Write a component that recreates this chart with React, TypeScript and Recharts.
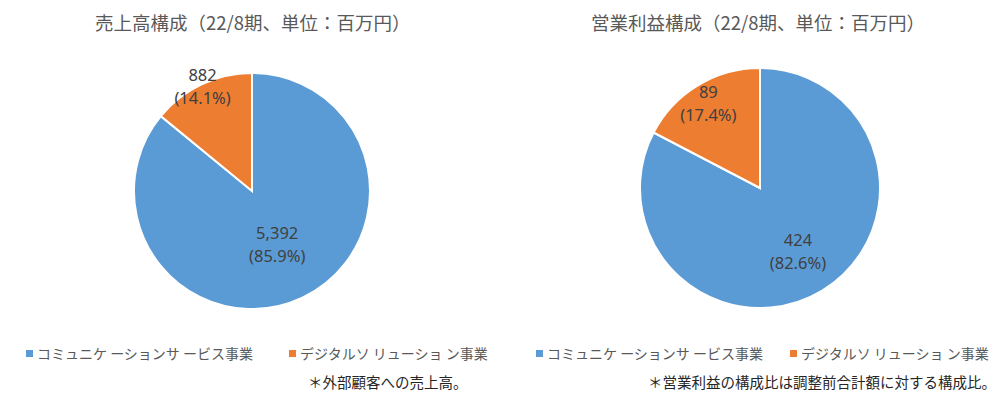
import React from "react";
import { PieChart, Pie, Cell, Legend } from "recharts";

const segments = ["コミュニケ ーションサ ービス事業", "デジタルソ リューショ ン事業"];
const salesValues = [5392, 882];
const salesPct = ["85.9%", "14.1%"];
const profitValues = [424, 89];
const profitPct = ["82.6%", "17.4%"];
const titles = ["売上高構成（22/8期、単位：百万円）", "営業利益構成（22/8期、単位：百万円）"];
const notes = ["＊外部顧客への売上高。", "＊営業利益の構成比は調整前合計額に対する構成比。"];
const colors = ["#5B9BD5", "#ED7D31"];

const RADIAN = Math.PI / 180;
const FONT = "'Noto Sans CJK JP', 'Noto Sans', sans-serif";

const makeLabel = (pcts: string[], fractions: number[]) => (props: any) => {
  const { cx, cy, midAngle, outerRadius, index, value } = props;
  const r = outerRadius * fractions[index];
  const x = cx + r * Math.cos(-midAngle * RADIAN);
  const y = cy + r * Math.sin(-midAngle * RADIAN);
  return (
    <text x={x} y={y} textAnchor="middle" fill="#404040" fontSize={16.5} fontFamily="'Noto Sans', sans-serif">
      <tspan x={x} dy={-11.5} dominantBaseline="central">{value.toLocaleString("en-US")}</tspan>
      <tspan x={x} dy={23} dominantBaseline="central">({pcts[index]})</tspan>
    </text>
  );
};

const LegendContent = ({ gap }: { gap: number }) => (
  <div style={{ display: "flex", fontFamily: FONT, fontSize: 14, color: "#595959", whiteSpace: "nowrap" }}>
    {segments.map((s, i) => (
      <div key={s} style={{ display: "flex", alignItems: "center", marginRight: i === 0 ? gap : 0 }}>
        <span style={{ display: "inline-block", width: 7, height: 7, background: colors[i], marginRight: 4 }} />
        <span>{s}</span>
      </div>
    ))}
  </div>
);

const PieBlock = ({ values, pcts, fractions, cx, cy, r, title, titleLeft, note, noteLeft, legendLeft, legendGap, left }: any) => {
  const data = segments.map((name, i) => ({ name, value: values[i] }));
  return (
    <div style={{ position: "absolute", left, top: 0, width: 499, height: 397 }}>
      <div style={{ position: "absolute", left: titleLeft, top: 9, fontFamily: FONT, fontSize: 18.5, color: "#595959", whiteSpace: "nowrap" }}>{title}</div>
      <PieChart width={499} height={397} margin={{ top: 0, right: 0, bottom: 0, left: 0 }} style={{ position: "absolute", left: 0, top: 0 }}>
        <Pie
          data={data}
          dataKey="value"
          nameKey="name"
          cx={cx}
          cy={cy}
          outerRadius={r}
          startAngle={90}
          endAngle={-270}
          stroke="#ffffff"
          strokeWidth={2}
          isAnimationActive={false}
          labelLine={false}
          label={makeLabel(pcts, fractions)}
        >
          {data.map((d, i) => (
            <Cell key={d.name} fill={colors[i]} />
          ))}
        </Pie>
        <Legend
          content={() => <LegendContent gap={legendGap} />}
          wrapperStyle={{ position: "absolute", left: legendLeft, top: 343, width: "auto" }}
        />
      </PieChart>
      <div style={{ position: "absolute", left: noteLeft, top: 371, fontFamily: FONT, fontSize: 14.5, color: "#262626", whiteSpace: "nowrap" }}>{note}</div>
    </div>
  );
};

export default function App() {
  return (
    <div style={{ position: "absolute", left: 0, top: 0, width: 997, height: 397, background: "#ffffff" }}>
      <PieBlock
        left={0}
        values={salesValues}
        pcts={salesPct}
        fractions={[0.5, 0.98]}
        cx={252}
        cy={191}
        r={118}
        title={titles[0]}
        titleLeft={95}
        note={notes[0]}
        noteLeft={308}
        legendLeft={26}
        legendGap={36}
      />
      <PieBlock
        left={498}
        values={profitValues}
        pcts={profitPct}
        fractions={[0.61, 0.83]}
        cx={262}
        cy={188}
        r={120}
        title={titles[1]}
        titleLeft={93}
        note={notes[1]}
        noteLeft={150}
        legendLeft={38}
        legendGap={27}
      />
    </div>
  );
}
